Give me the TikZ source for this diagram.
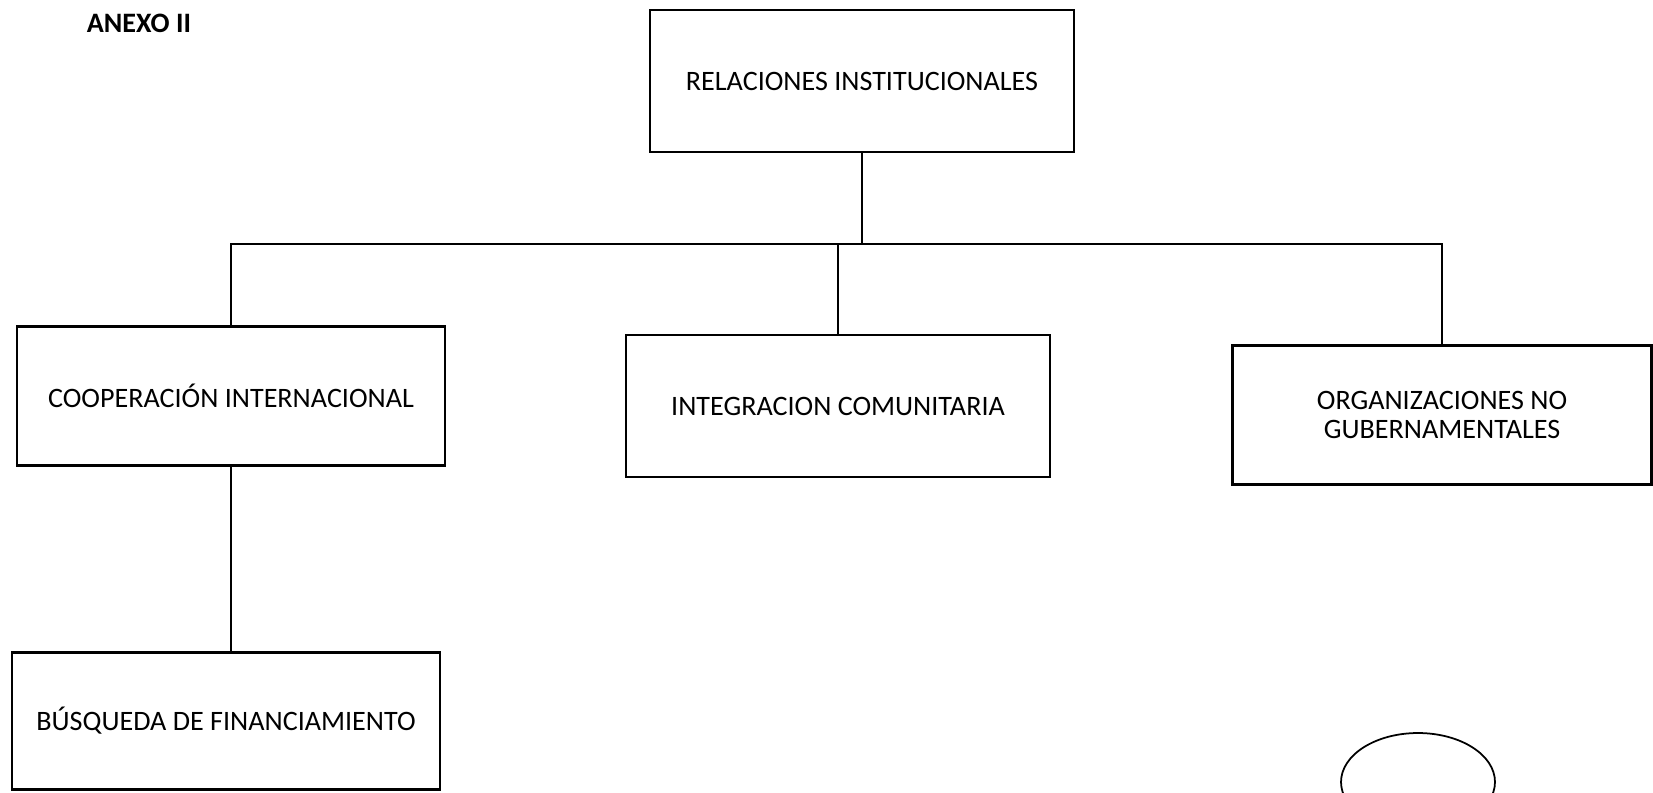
\documentclass[tikz,border=0pt]{standalone}
\usepackage{fontspec}
\setmainfont{Carlito}
\usepackage{tikz}
\usetikzlibrary{calc,positioning}

\begin{document}
\begin{tikzpicture}[x=0.02cm, y=-0.02cm,
        line/.style={line width=1.4pt},
        unitbox/.style={draw, line width=1.4pt, inner sep=0pt, align=center,
                font=\fontsize{16}{16.5}\selectfont}]
        \clip (0,0) rectangle (1653,792);

        % title
        \node[font=\fontsize{16}{18}\selectfont\bfseries] (anexo) at (139,23) {ANEXO II};

        % top
        \node[unitbox, minimum width=8.48cm, minimum height=2.84cm] (rel) at (862,81) {RELACIONES INSTITUCIONALES};

        % second level
        \node[unitbox, minimum width=8.56cm, minimum height=2.78cm] (coop) at (231,396) {COOPERACIÓN INTERNACIONAL};
        \node[unitbox, minimum width=8.48cm, minimum height=2.84cm] (integ) at (838,406) {INTEGRACION COMUNITARIA};
        \node[unitbox, minimum width=8.38cm, minimum height=2.78cm] (org) at (1442,415) {ORGANIZACIONES NO\\GUBERNAMENTALES};

        % third level
        \node[unitbox, minimum width=8.56cm, minimum height=2.74cm] (busq) at (226,721) {BÚSQUEDA DE FINANCIAMIENTO};

        % connectors
        \coordinate (bus) at (862,244);
        \draw[line] (rel) -- (bus);
        \draw[line] (coop.north) |- (bus) -| (org.north);
        \draw[line] (integ.north) -- (integ.north |- bus);
        \draw[line] (coop.south) -- (coop.south |- busq.north);

        % oval
        \draw[line width=1pt] (1418,782) ellipse [x radius=1.54cm, y radius=0.98cm];

      \end{tikzpicture}
\end{document}
